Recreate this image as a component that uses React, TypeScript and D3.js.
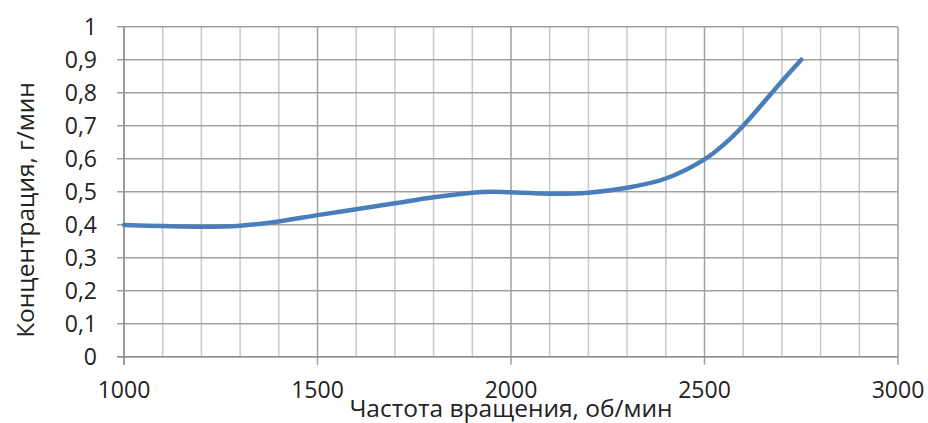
import React from "react";
import * as d3 from "d3";

const rpm = [1000, 1100, 1200, 1300, 1400, 1500, 1600, 1700, 1800, 1900, 1950, 2000, 2100, 2200, 2300, 2400, 2500, 2550, 2600, 2700, 2750];
const concentration = [0.399, 0.396, 0.394, 0.397, 0.41, 0.429, 0.447, 0.465, 0.483, 0.497, 0.5, 0.498, 0.494, 0.497, 0.512, 0.54, 0.598, 0.643, 0.7, 0.835, 0.9];
const xTicks = [1000, 1500, 2000, 2500, 3000];
const yTicks = [0, 0.1, 0.2, 0.3, 0.4, 0.5, 0.6, 0.7, 0.8, 0.9, 1];
const xTitle = "Частота вращения, об/мин";
const yTitle = "Концентрация, г/мин";

const W = 928;
const H = 423;
const FONT = "'Open Sans', sans-serif";

export default function App() {
  const x = d3.scaleLinear().domain([1000, 3000]).range([124, 898]);
  const y = d3.scaleLinear().domain([0, 1]).range([356.7, 26.7]);
  const minor = d3.range(1100, 3000, 100).filter((v) => v % 500 !== 0);
  const pts = rpm.map((r, i) => [r, concentration[i]] as [number, number]);
  const line = d3
    .line<[number, number]>()
    .x((d) => x(d[0]))
    .y((d) => y(d[1]))
    .curve(d3.curveCatmullRom.alpha(0.5));
  const fmt = (v: number) => String(v).replace(".", ",");
  return (
    <svg width={W} height={H} style={{ position: "absolute", left: 0, top: 0, background: "#fff" }}>
      <rect x={0} y={0} width={W} height={H} fill="#fff" />
      {minor.map((v) => (
        <line key={"m" + v} x1={x(v)} x2={x(v)} y1={y(1)} y2={y(0)} stroke="#c8c8c8" strokeWidth={1.5} />
      ))}
      {xTicks.map((v) => (
        <line key={"M" + v} x1={x(v)} x2={x(v)} y1={y(1)} y2={y(0) + 8} stroke="#a0a0a0" strokeWidth={1.5} />
      ))}
      {yTicks.map((v) => (
        <line key={"h" + v} x1={x(1000) - 7} x2={x(3000)} y1={y(v)} y2={y(v)} stroke="#a0a0a0" strokeWidth={1.5} />
      ))}
      <line x1={x(1000)} x2={x(1000)} y1={y(1)} y2={y(0) + 8} stroke="#909090" strokeWidth={1.5} />
      <line x1={x(1000) - 7} x2={x(3000)} y1={y(0)} y2={y(0)} stroke="#909090" strokeWidth={1.5} />
      <path d={line(pts) || ""} fill="none" stroke="#4a7ebb" strokeWidth={4.5} strokeLinecap="round" strokeLinejoin="round" />
      {yTicks.map((v) => (
        <text key={"yl" + v} x={97} y={y(v)} dy="0.36em" textAnchor="end" fontFamily={FONT} fontSize={23} fill="#222">
          {fmt(v)}
        </text>
      ))}
      {xTicks.map((v) => (
        <text key={"xl" + v} x={x(v)} y={398} textAnchor="middle" fontFamily={FONT} fontSize={23} fill="#222">
          {v}
        </text>
      ))}
      <text x={511} y={417} textAnchor="middle" fontFamily={FONT} fontSize={24.5} fill="#222">
        {xTitle}
      </text>
      <text
        transform={`translate(34, 210) rotate(-90)`}
        textAnchor="middle"
        fontFamily={FONT}
        fontSize={24.5}
        fill="#222"
      >
        {yTitle}
      </text>
    </svg>
  );
}
